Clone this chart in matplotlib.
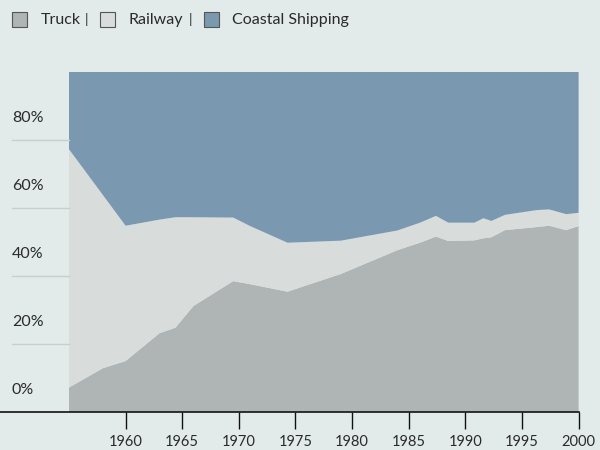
import matplotlib
matplotlib.use('Agg')
from matplotlib import pyplot as plt
from matplotlib.patches import Rectangle
from matplotlib.lines import Line2D
import numpy as np

# data (share of freight, %)
years = [1955, 1958, 1960, 1963, 1964.4, 1966, 1969.5, 1971, 1974.3, 1979, 1984, 1986,
         1987.4, 1988.5, 1990.8, 1991.6, 1992.3, 1993.5, 1996.3, 1997.4, 1998.9, 2000]
truck = [7.1, 12.8, 14.9, 23.1, 24.7, 31.1, 38.4, 37.5, 35.3, 40.5, 47.5, 49.7,
         51.5, 50.2, 50.4, 51.0, 51.3, 53.4, 54.3, 54.7, 53.4, 54.6]
truck_rail = [77.2, 63.7, 54.7, 56.5, 57.2, 57.2, 57.1, 54.6, 49.7, 50.3, 53.3, 55.6,
              57.6, 55.6, 55.6, 56.9, 56.1, 57.9, 59.3, 59.5, 58.1, 58.5]
railway = [tr - t for tr, t in zip(truck_rail, truck)]
coastal = [100 - tr for tr in truck_rail]
labels = ['Truck', 'Railway', 'Coastal Shipping']
year_ticks = [1960, 1965, 1970, 1975, 1980, 1985, 1990, 1995, 2000]
pct_ticks = [0, 20, 40, 60, 80]

bg = '#e2ebea'
colors = ['#afb4b4', '#d8dcdb', '#7b98b1']
txt = '#2a2a2a'
plt.rcParams['font.family'] = ['Lato', 'DejaVu Sans']

fig = plt.figure(figsize=(6, 4.5), dpi=100, facecolor=bg)
W, H = 600, 450
ax = fig.add_axes([69 / W, 1 - 411.7 / H, (578.6 - 69) / W, (411.7 - 71.7) / H])
ax.set_facecolor(bg)
ax.stackplot(years, truck, railway, coastal, colors=colors, linewidth=0)
ax.set_xlim(1955, 2000)
ax.set_ylim(0, 100)
for s in ['top', 'right', 'left', 'bottom']:
    ax.spines[s].set_visible(False)
ax.set_yticks([])
ax.set_xticks(year_ticks)
ax.set_xticklabels([str(y) for y in year_ticks], fontsize=10.5, color=txt)
ax.tick_params(axis='x', direction='out', length=12, width=1, color='#111', pad=5)

# gridlines to the left of the plot, with labels above them
ytr = ax.get_yaxis_transform()
x0 = (12 - 69) / (578.6 - 69)
for p in pct_ticks:
    if p > 0:
        ax.plot([x0, 0], [p, p], color='#c6cfcd', lw=1, transform=ytr, clip_on=False)
    ax.text(x0, p + 6.4, '%d%%' % p, transform=ytr, fontsize=11.5, color=txt,
            ha='left', va='center')

# bottom axis line across the whole left margin
fig.add_artist(Line2D([0, 579 / W], [1 - 411.7 / H] * 2, color='#111', lw=1.2))

# legend across the top
sq = [12.3, 100, 204.3]
tx = [40.7, 128, 232]
for i in range(3):
    fig.add_artist(Rectangle((sq[i] / W, 1 - 26.5 / H), 15 / W, 15 / H, facecolor=colors[i],
                             edgecolor='#555', lw=0.8))
    fig.text(tx[i] / W, 1 - 20 / H, labels[i], fontsize=11.5, color=txt, va='center', ha='left')
for x in [86.7, 191]:
    fig.text(x / W, 1 - 20 / H, '|', fontsize=10, color='#333', va='center', ha='center')

fig.savefig('out.png', dpi=100, facecolor=bg)
